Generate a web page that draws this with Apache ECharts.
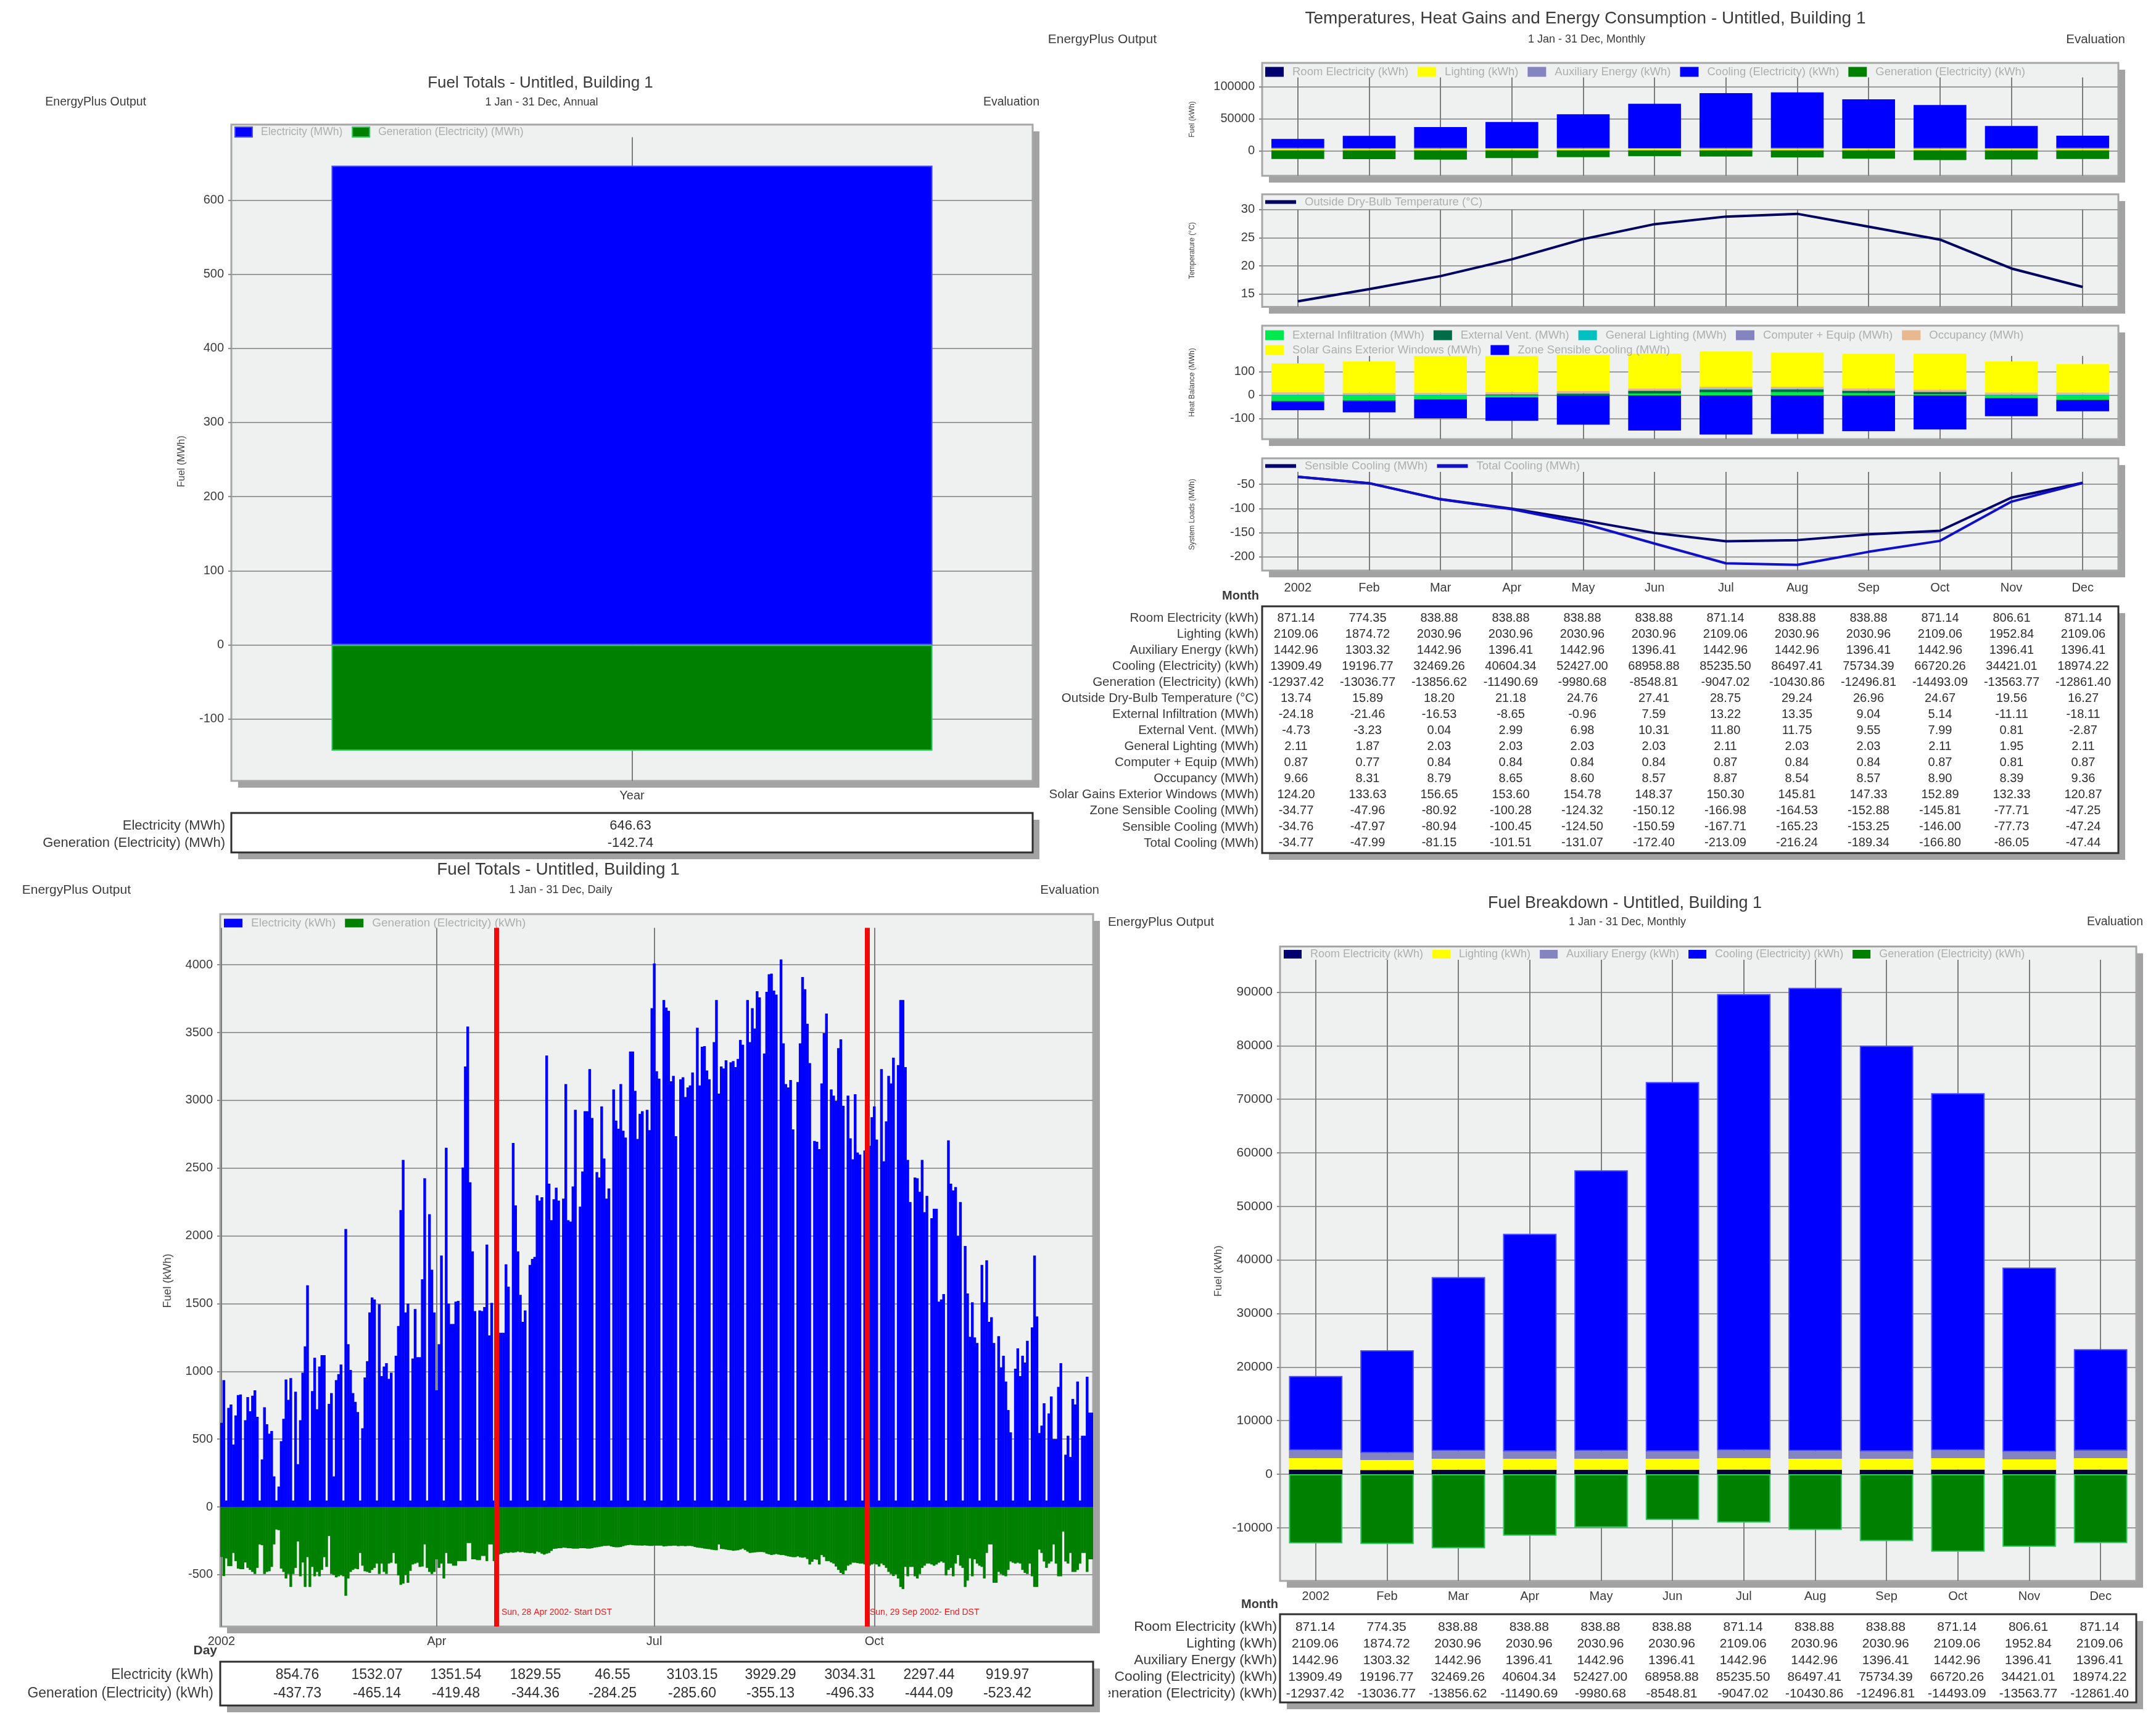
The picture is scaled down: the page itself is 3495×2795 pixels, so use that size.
<!DOCTYPE html>
<html lang="en">
<head>
    <meta charset="UTF-8">
    <title>EnergyPlus Output</title>
    <script src="https://cdn.jsdelivr.net/npm/echarts@6/dist/echarts.min.js" charset="utf-8"></script>
    <style>
        html, body { margin: 0; padding: 0; background: #fff; }
        #main { width: 3495px; height: 2795px; }
    </style>
</head>
<body>
<div id="main"></div>
<script>
    var months = ['2002', 'Feb', 'Mar', 'Apr', 'May', 'Jun', 'Jul', 'Aug', 'Sep', 'Oct', 'Nov', 'Dec'];

    // monthly figures, as printed in the tables
    var roomElectricity = [871.14, 774.35, 838.88, 838.88, 838.88, 838.88, 871.14, 838.88, 838.88, 871.14, 806.61, 871.14];
    var lighting = [2109.06, 1874.72, 2030.96, 2030.96, 2030.96, 2030.96, 2109.06, 2030.96, 2030.96, 2109.06, 1952.84, 2109.06];
    var auxiliaryEnergy = [1442.96, 1303.32, 1442.96, 1396.41, 1442.96, 1396.41, 1442.96, 1442.96, 1396.41, 1442.96, 1396.41, 1396.41];
    var coolingElectricity = [13909.49, 19196.77, 32469.26, 40604.34, 52427.00, 68958.88, 85235.50, 86497.41, 75734.39, 66720.26, 34421.01, 18974.22];
    var generationElectricity = [-12937.42, -13036.77, -13856.62, -11490.69, -9980.68, -8548.81, -9047.02, -10430.86, -12496.81, -14493.09, -13563.77, -12861.40];
    var outsideTemp = [13.74, 15.89, 18.20, 21.18, 24.76, 27.41, 28.75, 29.24, 26.96, 24.67, 19.56, 16.27];
    var externalInfiltration = [-24.18, -21.46, -16.53, -8.65, -0.96, 7.59, 13.22, 13.35, 9.04, 5.14, -11.11, -18.11];
    var externalVent = [-4.73, -3.23, 0.04, 2.99, 6.98, 10.31, 11.80, 11.75, 9.55, 7.99, 0.81, -2.87];
    var generalLighting = [2.11, 1.87, 2.03, 2.03, 2.03, 2.03, 2.11, 2.03, 2.03, 2.11, 1.95, 2.11];
    var computerEquip = [0.87, 0.77, 0.84, 0.84, 0.84, 0.84, 0.87, 0.84, 0.84, 0.87, 0.81, 0.87];
    var occupancy = [9.66, 8.31, 8.79, 8.65, 8.60, 8.57, 8.87, 8.54, 8.57, 8.90, 8.39, 9.36];
    var solarGains = [124.20, 133.63, 156.65, 153.60, 154.78, 148.37, 150.30, 145.81, 147.33, 152.89, 132.33, 120.87];
    var zoneSensibleCooling = [-34.77, -47.96, -80.92, -100.28, -124.32, -150.12, -166.98, -164.53, -152.88, -145.81, -77.71, -47.25];
    var sensibleCooling = [-34.76, -47.97, -80.94, -100.45, -124.50, -150.59, -167.71, -165.23, -153.25, -146.00, -77.73, -47.24];
    var totalCooling = [-34.77, -47.99, -81.15, -101.51, -131.07, -172.40, -213.09, -216.24, -189.34, -166.80, -86.05, -47.44];

    // annual totals
    var annualCategory = ['Year'];
    var annualElectricity = [646.63];
    var annualGeneration = [-142.74];

    // daily values, 365 days, ten per line
    var dailyElectricity = [
        620, 935, 47, 730, 755, 460, 675, 825, 830, 47,
        640, 810, 705, 820, 860, 665, 47, 350, 735, 610,
        540, 560, 225, 47, 150, 485, 650, 940, 790, 950,
        47, 850, 315, 640, 990, 1185, 1635, 47, 855, 1100,
        720, 1035, 1120, 1120, 47, 760, 840, 225, 935, 980,
        1050, 47, 2050, 1200, 1010, 840, 775, 700, 47, 580,
        955, 1075, 1435, 1545, 1530, 47, 1495, 965, 1035, 1060,
        945, 990, 47, 1115, 1335, 2190, 2560, 1435, 1500, 47,
        1095, 1460, 1105, 1105, 1680, 2425, 47, 2160, 1750, 1435,
        860, 1200, 1855, 47, 2650, 1500, 1350, 1350, 1515, 1520,
        47, 2505, 3250, 3545, 2395, 1885, 1445, 47, 1450, 1445,
        1475, 1935, 1265, 1505, 47, 1505, 1285, 1285, 1285, 1790,
        1625, 47, 2685, 2225, 1885, 1565, 1365, 1450, 47, 1785,
        1830, 1845, 2300, 2260, 2285, 47, 3330, 2385, 2115, 2270,
        2355, 2260, 47, 2275, 3120, 2115, 2105, 2365, 2930, 47,
        2215, 2475, 2920, 2920, 3230, 2870, 47, 2470, 2430, 2955,
        2570, 2275, 2350, 47, 3080, 2850, 2790, 3120, 2775, 2725,
        47, 3360, 3360, 3070, 2715, 2900, 2920, 47, 2930, 2780,
        3680, 4010, 3215, 3160, 47, 3740, 3685, 3660, 3140, 3180,
        2735, 47, 3155, 3170, 3025, 3095, 3110, 3205, 47, 3535,
        3110, 3395, 3400, 3220, 3155, 47, 3430, 3740, 3050, 3250,
        3235, 3295, 47, 3280, 3290, 3245, 3305, 3445, 3410, 47,
        3740, 3430, 3680, 3530, 3805, 3760, 47, 3345, 3800, 3930,
        3935, 3810, 3780, 47, 4040, 3420, 3120, 3095, 3150, 2785,
        47, 3135, 3420, 3910, 3820, 3565, 3275, 47, 2700, 2695,
        2640, 3125, 3495, 3640, 47, 3080, 3035, 2995, 3385, 3450,
        2960, 47, 3035, 2720, 2565, 3045, 2615, 2600, 47, 2630,
        2665, 2665, 2875, 2955, 2710, 47, 3230, 2550, 2845, 3180,
        3125, 3315, 47, 3260, 3740, 3740, 3245, 2560, 2250, 47,
        2430, 2425, 2325, 2560, 2175, 2295, 47, 2130, 2200, 2200,
        1515, 1530, 1570, 47, 2705, 2385, 2335, 2360, 2000, 2250,
        47, 1925, 1575, 1255, 1510, 1250, 1210, 47, 1785, 1510,
        1820, 1365, 1400, 1210, 47, 1260, 1030, 1115, 925, 715,
        550, 47, 1020, 1170, 965, 1115, 1065, 1225, 47, 1325,
        1855, 1405, 545, 600, 765, 47, 690, 815, 500, 500,
        885, 1060, 47, 385, 525, 368, 797, 755, 925, 47,
        525, 525, 960, 695, 695
    ];
    var dailyGeneration = [
        -370, -510, -380, -437, -437, -340, -400, -455, -460, -460,
        -410, -450, -465, -480, -495, -450, -277, -283, -495, -480,
        -475, -443, -277, -167, -172, -455, -480, -528, -495, -590,
        -495, -450, -255, -512, -410, -590, -371, -590, -443, -512,
        -480, -512, -465, -371, -443, -215, -495, -503, -520, -512,
        -503, -512, -655, -528, -480, -465, -455, -460, -340, -434,
        -475, -480, -487, -465, -450, -418, -495, -418, -480, -495,
        -418, -412, -340, -418, -506, -575, -566, -503, -560, -472,
        -425, -418, -412, -443, -440, -277, -450, -480, -495, -480,
        -387, -450, -418, -528, -340, -418, -418, -434, -434, -400,
        -400, -400, -400, -267, -267, -387, -387, -393, -393, -362,
        -362, -400, -277, -277, -400, -355, -352, -348, -342, -338,
        -340, -335, -338, -335, -330, -335, -332, -338, -340, -342,
        -340, -345, -330, -335, -345, -352, -345, -340, -325, -310,
        -308, -305, -305, -300, -302, -305, -305, -308, -308, -308,
        -305, -305, -305, -308, -308, -305, -300, -298, -295, -292,
        -288, -288, -286, -292, -296, -298, -298, -296, -290, -285,
        -282, -280, -282, -284, -285, -285, -286, -284, -286, -288,
        -288, -286, -286, -286, -286, -292, -290, -288, -288, -286,
        -286, -290, -288, -288, -290, -288, -288, -290, -296, -300,
        -302, -304, -308, -310, -312, -316, -318, -320, -277, -310,
        -312, -315, -318, -320, -324, -322, -320, -315, -308, -318,
        -330, -340, -338, -336, -334, -333, -333, -335, -345, -350,
        -355, -352, -348, -352, -355, -355, -360, -365, -368, -371,
        -371, -365, -372, -375, -372, -385, -425, -405, -387, -390,
        -425, -355, -370, -400, -400, -410, -418, -440, -465, -487,
        -497, -470, -434, -425, -412, -412, -415, -418, -418, -425,
        -430, -434, -425, -418, -425, -440, -418, -430, -450, -480,
        -495, -510, -497, -528, -590, -607, -443, -512, -443, -443,
        -512, -528, -495, -450, -434, -418, -418, -425, -434, -425,
        -412, -403, -412, -506, -465, -450, -512, -418, -355, -434,
        -450, -590, -544, -380, -512, -387, -418, -434, -443, -528,
        -340, -277, -277, -560, -560, -480, -495, -506, -512, -465,
        -403, -412, -418, -412, -418, -465, -487, -495, -418, -512,
        -590, -590, -315, -340, -403, -450, -418, -403, -277, -418,
        -512, -512, -182, -403, -418, -340, -480, -480, -465, -418,
        -340, -340, -480, -387, -387
    ];
    var dailyTickDays = [0, 90, 181, 273];
    var dailyTickLabels = ['2002', 'Apr', 'Jul', 'Oct'];
    var dstDays = [115, 270];
    var dstLabels = ['Sun, 28 Apr 2002- Start DST', 'Sun, 29 Sep 2002- End DST'];
    var dailyTableElectricity = [854.76, 1532.07, 1351.54, 1829.55, 46.55, 3103.15, 3929.29, 3034.31, 2297.44, 919.97];
    var dailyTableGeneration = [-437.73, -465.14, -419.48, -344.36, -284.25, -285.60, -355.13, -496.33, -444.09, -523.42];

    // y tick labels
    var annualTicks = [-100, 0, 100, 200, 300, 400, 500, 600];
    var fuelTicks = [0, 50000, 100000];
    var tempTicks = [15, 20, 25, 30];
    var heatTicks = [-100, 0, 100];
    var loadTicks = [-200, -150, -100, -50];
    var dailyTicks = [-500, 0, 500, 1000, 1500, 2000, 2500, 3000, 3500, 4000];
    var breakdownTicks = [-10000, 0, 10000, 20000, 30000, 40000, 50000, 60000, 70000, 80000, 90000];

    var FONT = 'Liberation Sans';
    var BLUE = '#0000ff', GREEN = '#008000', NAVY = '#000070', YELLOW = '#ffff00', LAVENDER = '#8484c0';
    var TEXT = '#3a3a3a', SHADOW = '#a2a2a2';
    var SHADOW_OFFSET = 11;

    var dayCategories = [];
    for (var d = 0; d < dailyElectricity.length; d++) {
        dayCategories.push(String(d));
    }

    function gridBox(left, top, width, height) {
        return {
            left: left, top: top, width: width, height: height, show: true,
            backgroundColor: '#eff0f0', borderColor: '#a6a6a6', borderWidth: 3
        };
    }

    function xAxisOf(gridIndex, cats, showLabels, margin) {
        return {
            type: 'category', gridIndex: gridIndex, data: cats,
            axisLine: {show: false}, axisTick: {show: false}, splitLine: {show: false},
            axisLabel: {show: showLabels, color: TEXT, fontSize: 20, margin: margin || 14, interval: 0, fontFamily: FONT}
        };
    }

    function yAxisOf(gridIndex, min, max, ticks, name, nameGap, nameSize, namePad, fontSize) {
        return {
            type: 'value', gridIndex: gridIndex, min: min, max: max,
            name: name, nameLocation: 'middle', nameGap: nameGap, nameRotate: 90,
            nameTextStyle: {color: '#444', fontSize: nameSize, fontFamily: FONT, padding: [0, namePad || 0, 0, 0]},
            axisLine: {show: false},
            axisTick: {show: true, length: 5, customValues: ticks, lineStyle: {color: '#8a8a8a', width: 2}},
            axisLabel: {
                show: true, color: TEXT, fontSize: fontSize || 20, margin: 12, customValues: ticks, fontFamily: FONT,
                formatter: function (v) { return String(v); }
            },
            splitLine: {show: true, lineStyle: {color: '#9a9a9a', width: 2, type: 'solid'}}
        };
    }

    function barOf(name, data, color, axis, stack, widthPct, edge) {
        return {
            name: name, type: 'bar', xAxisIndex: axis, yAxisIndex: axis, stack: stack, data: data,
            barWidth: widthPct, z: 3,
            itemStyle: {color: color, borderColor: edge || color, borderWidth: edge ? 2 : 0}
        };
    }

    function lineOf(name, data, color, axis) {
        return {
            name: name, type: 'line', xAxisIndex: axis, yAxisIndex: axis, data: data,
            symbol: 'none', z: 3, lineStyle: {color: color, width: 4}, itemStyle: {color: color}
        };
    }

    // vertical rules, they stop under the legend band
    function guideSeries(axis, cats, yTop, yBottom, color, width, z) {
        return {
            type: 'line', xAxisIndex: axis, yAxisIndex: axis, data: [], silent: true, z: z || 1,
            markLine: {
                silent: true, symbol: 'none', animation: false, z: z || 1, label: {show: false},
                lineStyle: {color: color || '#7c7c7c', width: width || 2, type: 'solid'},
                data: cats.map(function (c) {
                    return [{coord: [c, yTop]}, {coord: [c, yBottom]}];
                })
            }
        };
    }

    function legendOf(names, left, top, itemW, itemH, size) {
        return {
            left: left, top: top, padding: 0, itemWidth: itemW, itemHeight: itemH, itemGap: 15,
            selectedMode: false, orient: 'horizontal',
            data: names.map(function (n) { return {name: n, icon: 'rect'}; }),
            textStyle: {color: '#aeaeae', fontSize: size, fontFamily: FONT, padding: [0, 0, 0, 9]}
        };
    }

    function titleOf(text, x, y, size) {
        return {
            text: text, left: x, top: y - size * 0.5, padding: 0, textAlign: 'center',
            textStyle: {color: TEXT, fontSize: size, fontWeight: 'normal', fontFamily: FONT}
        };
    }

    function label(text, x, y, size, align, color, weight, z) {
        return {
            type: 'text', x: x, y: y, z: z || 10, silent: true,
            style: {
                text: text, fill: color || TEXT, font: (weight || 'normal') + ' ' + size + 'px "' + FONT + '"',
                align: align || 'left', verticalAlign: 'middle'
            }
        };
    }

    function shadowBox(x, y, w, h, z) {
        return {
            type: 'rect', z: z, silent: true,
            shape: {x: x + SHADOW_OFFSET, y: y + SHADOW_OFFSET, width: w, height: h},
            style: {fill: SHADOW}
        };
    }

    function tableBox(x, y, w, h, z) {
        return {
            type: 'rect', z: z || 8, silent: true, shape: {x: x, y: y, width: w, height: h},
            style: {fill: '#fff', stroke: '#2e2e2e', lineWidth: 3}
        };
    }

    // rows: [[label, values], ...]
    function tableTexts(rows, colX, firstY, rowGap, labelRight, size, labelSize, z) {
        var out = [];
        rows.forEach(function (row, r) {
            var y = firstY + r * rowGap;
            out.push(label(row[0], labelRight, y, labelSize, 'right', TEXT, 'normal', z));
            row[1].forEach(function (v, c) {
                out.push(label(v.toFixed(2), colX[c], y, size, 'center', '#2e2e2e', 'normal', z));
            });
        });
        return out;
    }

    function columns(first, step, count) {
        var xs = [];
        for (var i = 0; i < count; i++) {
            xs.push(first + step * i);
        }
        return xs;
    }

    var N_ROOM = 'Room Electricity (kWh)', N_LIGHT = 'Lighting (kWh)', N_AUX = 'Auxiliary Energy (kWh)',
        N_COOL = 'Cooling (Electricity) (kWh)', N_GEN = 'Generation (Electricity) (kWh)';
    var N_INF = 'External Infiltration (MWh)', N_VENT = 'External Vent. (MWh)', N_GL = 'General Lighting (MWh)',
        N_COMP = 'Computer + Equip (MWh)', N_OCC = 'Occupancy (MWh)', N_SOLAR = 'Solar Gains Exterior Windows (MWh)',
        N_ZONE = 'Zone Sensible Cooling (MWh)';
    var N_TEMP = 'Outside Dry-Bulb Temperature (\u00b0C)', N_SENS = 'Sensible Cooling (MWh)', N_TOTAL = 'Total Cooling (MWh)';

    var monthlyRows = [
        [N_ROOM, roomElectricity], [N_LIGHT, lighting], [N_AUX, auxiliaryEnergy],
        [N_COOL, coolingElectricity], [N_GEN, generationElectricity]
    ];
    var summaryRows = monthlyRows.concat([
        [N_TEMP, outsideTemp], [N_INF, externalInfiltration], [N_VENT, externalVent], [N_GL, generalLighting],
        [N_COMP, computerEquip], [N_OCC, occupancy], [N_SOLAR, solarGains], [N_ZONE, zoneSensibleCooling],
        [N_SENS, sensibleCooling], [N_TOTAL, totalCooling]
    ]);

    var BLUE_EDGE = '#4a4aff', GREEN_EDGE = '#30c860';

    var series = [
        // 0 annual
        guideSeries(0, annualCategory, 685, -183.6),
        barOf('Electricity (MWh)', annualElectricity, BLUE, 0, 'annual', '75%', BLUE_EDGE),
        barOf('Generation (Electricity) (MWh)', annualGeneration, GREEN, 0, 'annual', '75%', GREEN_EDGE),
        // 1 monthly fuel
        guideSeries(1, months, 114100, -39100),
        barOf(N_ROOM, roomElectricity, NAVY, 1, 'fuelTop', '74%'),
        barOf(N_LIGHT, lighting, YELLOW, 1, 'fuelTop', '74%'),
        barOf(N_AUX, auxiliaryEnergy, LAVENDER, 1, 'fuelTop', '74%'),
        barOf(N_COOL, coolingElectricity, BLUE, 1, 'fuelTop', '74%'),
        barOf(N_GEN, generationElectricity, GREEN, 1, 'fuelTop', '74%'),
        // 2 temperature
        guideSeries(2, months, 30, 12.75),
        lineOf(N_TEMP, outsideTemp, '#000060', 2),
        // 3 heat balance
        guideSeries(3, months, 168, -187),
        barOf(N_INF, externalInfiltration, '#00e850', 3, 'heat', '74%'),
        barOf(N_VENT, externalVent, '#006c48', 3, 'heat', '74%'),
        barOf(N_GL, generalLighting, '#00c0c0', 3, 'heat', '74%'),
        barOf(N_COMP, computerEquip, LAVENDER, 3, 'heat', '74%'),
        barOf(N_OCC, occupancy, '#e8b890', 3, 'heat', '74%'),
        barOf(N_SOLAR, solarGains, YELLOW, 3, 'heat', '74%'),
        barOf(N_ZONE, zoneSensibleCooling, BLUE, 3, 'heat', '74%'),
        // 4 system loads
        guideSeries(4, months, -24.6, -228),
        lineOf(N_SENS, sensibleCooling, '#000070', 4),
        lineOf(N_TOTAL, totalCooling, '#1010c8', 4),
        // 5 daily, bars a little wider than a day so they close up without seams
        guideSeries(5, dailyTickDays.map(String), 4273, -883),
        {
            name: 'Electricity (kWh)', type: 'bar', xAxisIndex: 5, yAxisIndex: 5, stack: 'daily', data: dailyElectricity,
            barWidth: 4.4, z: 3, itemStyle: {color: BLUE}
        },
        {
            name: N_GEN, type: 'bar', xAxisIndex: 5, yAxisIndex: 5, stack: 'daily', data: dailyGeneration,
            barWidth: 4.4, z: 3, itemStyle: {color: GREEN}
        },
        guideSeries(5, dstDays.map(String), 4273, -883, '#f00a0a', 8, 6),
        // 6 breakdown
        guideSeries(6, months, 96050, -19930),
        barOf(N_ROOM, roomElectricity, '#000040', 6, 'breakdown', '75%'),
        barOf(N_LIGHT, lighting, YELLOW, 6, 'breakdown', '75%'),
        barOf(N_AUX, auxiliaryEnergy, LAVENDER, 6, 'breakdown', '75%'),
        barOf(N_COOL, coolingElectricity, BLUE, 6, 'breakdown', '75%', BLUE_EDGE),
        barOf(N_GEN, generationElectricity, GREEN, 6, 'breakdown', '75%', GREEN_EDGE)
    ];

    var dailyAxis = xAxisOf(5, dayCategories, true);
    dailyAxis.axisLabel.interval = function (i) {
        return dailyTickDays.indexOf(i) >= 0;
    };
    dailyAxis.axisLabel.formatter = function (value) {
        return dailyTickLabels[dailyTickDays.indexOf(Number(value))];
    };

    var panels = [
        [375, 202, 1299, 1064],
        [2046, 102, 1388, 183],
        [2046, 315, 1388, 182.5],
        [2046, 528, 1388, 184],
        [2046, 743, 1388, 182],
        [357, 1482, 1415, 1155],
        [2075, 1534.5, 1388, 1028.5]
    ];

    var graphics = panels.map(function (p) {
        return shadowBox(p[0], p[1], p[2], p[3], -1);
    });

    [
        [237, 166, 'EnergyPlus Output', 19.5], [1685, 166, 'Evaluation', 19.5],
        [1875, 64, 'EnergyPlus Output', 21], [3445, 64, 'Evaluation', 20.5],
        [212, 1443, 'EnergyPlus Output', 21], [1782, 1443, 'Evaluation', 20.5],
        [1968, 1495, 'EnergyPlus Output', 20.5], [3474, 1495, 'Evaluation', 19.5]
    ].forEach(function (c) {
        graphics.push(label(c[2], c[0], c[1], c[3], 'right'));
    });

    graphics.push(label('Month', 2041, 966, 20, 'right', TEXT, 'bold'));
    graphics.push(label('Month', 2072, 2601, 20, 'right', TEXT, 'bold'));
    graphics.push(label('Day', 352, 2676, 21, 'right', TEXT, 'bold'));

    // annual table
    graphics.push(shadowBox(375, 1318, 1299, 64, 7));
    graphics.push(tableBox(375, 1318, 1299, 64));
    graphics = graphics.concat(tableTexts(
        [['Electricity (MWh)', annualElectricity], ['Generation (Electricity) (MWh)', annualGeneration]],
        [1022], 1339, 28, 365, 22, 22));

    // summary table, top right
    graphics.push(shadowBox(2046, 983, 1388, 400, 7));
    graphics.push(tableBox(2046, 983, 1388, 400));
    graphics = graphics.concat(tableTexts(summaryRows, columns(2101, 116, 12), 1002, 26.07, 2040, 20, 20.5));

    // breakdown table, its last label runs under the daily panel
    graphics.push(shadowBox(2075, 2617, 1388, 143, 7));
    graphics.push(tableBox(2075, 2617, 1388, 143));
    graphics = graphics.concat(tableTexts(monthlyRows, columns(2132, 115.6, 12), 2638, 27, 2070, 21, 22.8));
    graphics.push({
        type: 'rect', z: 12, silent: true, shape: {x: 1690, y: 2730, width: 107, height: 32}, style: {fill: '#fff'}
    });

    // daily table
    graphics.push(shadowBox(357, 2694, 1415, 71, 12.5));
    graphics.push(tableBox(357, 2694, 1415, 71, 13));
    graphics = graphics.concat(tableTexts(
        [['Electricity (kWh)', dailyTableElectricity], [N_GEN, dailyTableGeneration]],
        [482, 611, 739, 868, 993, 1122, 1249, 1378, 1506, 1633], 2716, 30, 346, 23, 23, 14));

    graphics.push(label(dstLabels[0], 813, 2614, 14, 'left', '#f01818'));
    graphics.push(label(dstLabels[1], 1410, 2614, 14, 'left', '#f01818'));

    var chart = echarts.init(document.getElementById('main'));
    chart.setOption({
        animation: false,
        backgroundColor: '#fff',
        textStyle: {fontFamily: FONT},
        title: [
            titleOf('Fuel Totals - Untitled, Building 1', 876, 135, 26),
            titleOf('1 Jan - 31 Dec, Annual', 878, 166, 18),
            titleOf('Temperatures, Heat Gains and Energy Consumption - Untitled, Building 1', 2570, 30, 28),
            titleOf('1 Jan - 31 Dec, Monthly', 2572, 64, 18),
            titleOf('Fuel Totals - Untitled, Building 1', 905, 1410, 28),
            titleOf('1 Jan - 31 Dec, Daily', 909, 1443, 18),
            titleOf('Fuel Breakdown - Untitled, Building 1', 2634, 1465, 27),
            titleOf('1 Jan - 31 Dec, Monthly', 2638, 1495, 18)
        ],
        legend: [
            legendOf(['Electricity (MWh)', 'Generation (Electricity) (MWh)'], 380, 205, 28, 16, 17.5),
            legendOf([N_ROOM, N_LIGHT, N_AUX, N_COOL, N_GEN], 2051, 107, 30, 16, 18.5),
            legendOf([N_TEMP], 2051, 318, 50, 6, 18.5),
            legendOf([N_INF, N_VENT, N_GL, N_COMP, N_OCC], 2051, 534, 30, 16, 18.5),
            legendOf([N_SOLAR, N_ZONE], 2051, 558, 30, 16, 18.5),
            legendOf([N_SENS, N_TOTAL], 2051, 746, 50, 6, 18.5),
            legendOf(['Electricity (kWh)', N_GEN], 363, 1487, 30, 14, 19),
            legendOf([N_ROOM, N_LIGHT, N_AUX, N_COOL, N_GEN], 2081, 1538, 29, 14, 18)
        ],
        grid: panels.map(function (p) {
            return gridBox(p[0], p[1], p[2], p[3]);
        }),
        xAxis: [
            xAxisOf(0, annualCategory, true),
            xAxisOf(1, months, false),
            xAxisOf(2, months, false),
            xAxisOf(3, months, false),
            xAxisOf(4, months, true, 18),
            dailyAxis,
            xAxisOf(6, months, true, 15)
        ],
        yAxis: [
            yAxisOf(0, -183.6, 702, annualTicks, 'Fuel (MWh)', 72, 16, 28),
            yAxisOf(1, -39100, 136800, fuelTicks, 'Fuel (kWh)', 107, 12),
            yAxisOf(2, 12.75, 32.7, tempTicks, 'Temperature (\u00b0C)', 107, 12),
            yAxisOf(3, -187, 297, heatTicks, 'Heat Balance (MWh)', 107, 12),
            yAxisOf(4, -228, 3.4, loadTicks, 'System Loads (MWh)', 107, 12),
            yAxisOf(5, -883, 4374, dailyTicks, 'Fuel (kWh)', 76, 18, 34),
            yAxisOf(6, -19930, 98525, breakdownTicks, 'Fuel (kWh)', 91, 17, 24, 21)
        ],
        series: series,
        graphic: {elements: graphics}
    });
    window.addEventListener('resize', function () {
        chart.resize();
    });
</script>
</body>
</html>
